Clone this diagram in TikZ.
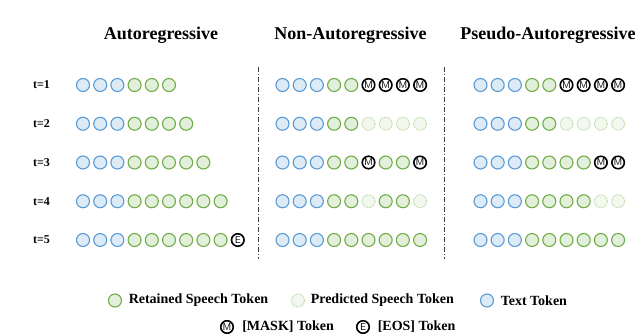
\documentclass[tikz,border=0pt]{standalone}
\usepackage{fontspec}
\setmainfont{Liberation Serif}
\usepackage{tikz}
\usetikzlibrary{positioning}
\definecolor{txtblue}{HTML}{5B9BD5}
\definecolor{txtfill}{HTML}{DDEBF7}
\definecolor{spgreen}{HTML}{70AD47}
\definecolor{spfill}{HTML}{E2EFDA}
\definecolor{prgreen}{HTML}{C5E0B4}
\definecolor{prfill}{HTML}{F2F8EE}
\definecolor{divgray}{HTML}{404040}

\begin{document}
\begin{tikzpicture}[
  x=1pt, y=-1pt,
  tok/.style={circle, minimum size=13pt, inner sep=0pt, line width=1.1pt},
  tokb/.style={tok, draw=txtblue, fill=txtfill},
  tokg/.style={tok, draw=spgreen, fill=spfill},
  tokp/.style={tok, draw=prgreen, fill=prfill, dash pattern=on 1.6pt off 1pt},
  tokm/.style={tok, minimum size=12.5pt, draw=black, fill=white, line width=1.6pt, label={[inner sep=0pt, font=\fontsize{10}{10}\selectfont\sffamily]center:M}},
  toke/.style={tok, minimum size=12.5pt, draw=black, fill=white, line width=1.6pt, label={[inner sep=0pt, font=\fontsize{10}{10}\selectfont\sffamily]center:E}},
  title/.style={font=\fontsize{18}{20}\selectfont\bfseries, inner sep=0pt},
  rowlbl/.style={font=\fontsize{12}{13}\selectfont\bfseries, inner sep=0pt},
  leg/.style={font=\fontsize{14}{16}\selectfont\bfseries, inner sep=0pt, anchor=west},
  divider/.style={draw=divgray, line width=0.8pt, dash pattern=on 5pt off 2pt on 1pt off 2pt}
]
\useasboundingbox (0,0) rectangle (640,334);

% ---------- titles ----------
\node[title] (ttl-ar) at (161,35) {Autoregressive};
\node[title] (ttl-nar) at (350.5,35) {Non-Autoregressive};
\node[title] (ttl-par) at (548,35) {Pseudo-Autoregressive};

% ---------- step labels ----------
\foreach \r in {1,...,5}
  \node[rowlbl] (t\r) at (41.5,{85+38.75*(\r-1)}) {t=\r};

% ---------- autoregressive ----------
\foreach \seq [count=\r] in {{b,b,b,g,g,g},{b,b,b,g,g,g,g},{b,b,b,g,g,g,g,g},{b,b,b,g,g,g,g,g,g},{b,b,b,g,g,g,g,g,g,e}}
  \foreach \k [count=\c] in \seq
    \node[tok\k] (ar-\r-\c) at ({83+17.2*(\c-1)},{85+38.75*(\r-1)}) {};

% ---------- non-autoregressive ----------
\foreach \seq [count=\r] in {{b,b,b,g,g,m,m,m,m},{b,b,b,g,g,p,p,p,p},{b,b,b,g,g,m,g,g,m},{b,b,b,g,g,p,g,g,p},{b,b,b,g,g,g,g,g,g}}
  \foreach \k [count=\c] in \seq
    \node[tok\k] (nar-\r-\c) at ({282.5+17.2*(\c-1)},{85+38.75*(\r-1)}) {};

% ---------- pseudo-autoregressive ----------
\foreach \seq [count=\r] in {{b,b,b,g,g,m,m,m,m},{b,b,b,g,g,p,p,p,p},{b,b,b,g,g,g,g,m,m},{b,b,b,g,g,g,g,p,p},{b,b,b,g,g,g,g,g,g}}
  \foreach \k [count=\c] in \seq
    \node[tok\k] (par-\r-\c) at ({480.5+17.2*(\c-1)},{85+38.75*(\r-1)}) {};

% ---------- dividers ----------
\coordinate (div1-top) at (258,67);
\coordinate (div1-bot) at (258,259);
\coordinate (div2-top) at (444.5,67);
\coordinate (div2-bot) at (444.5,259);
\draw[divider] (div1-top) -- (div1-bot);
\draw[divider] (div2-top) -- (div2-bot);

% ---------- legend ----------
\node[tokg] (lg-g) at (115,300.5) {};
\node[leg, right=6.5pt of lg-g] (lg-g-txt) {Retained Speech Token};
\node[tokp] (lg-p) at (298,300.5) {};
\node[leg, right=5.5pt of lg-p] (lg-p-txt) {Predicted Speech Token};
\node[tokb] (lg-b) at (487,300.5) {};
\node[leg, right=6.5pt of lg-b] (lg-b-txt) {Text Token};
\node[tokm] (lg-m) at (227,327) {};
\node[leg, right=8pt of lg-m] (lg-m-txt) {[MASK] Token};
\node[toke] (lg-e) at (363,327) {};
\node[leg, right=7.5pt of lg-e] (lg-e-txt) {[EOS] Token};
\end{tikzpicture}
\end{document}
